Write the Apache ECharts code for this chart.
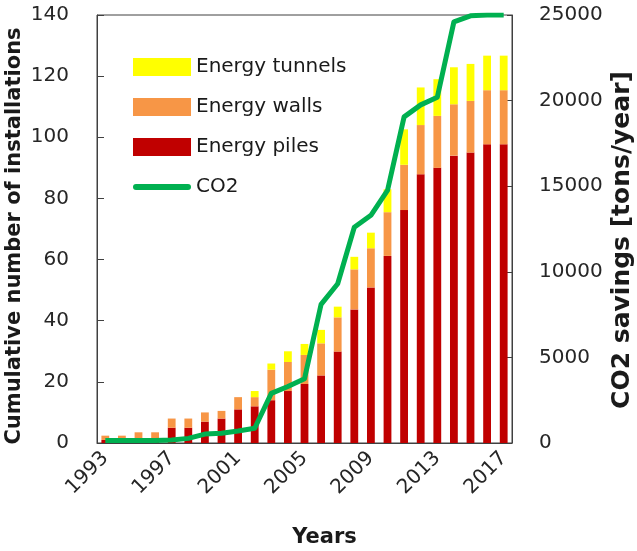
<!DOCTYPE html>
<html>
<head>
<meta charset="utf-8">
<script src="https://cdn.jsdelivr.net/npm/echarts@6/dist/echarts.min.js"></script>
<style>
html,body{margin:0;padding:0;background:#fff;}
#chart{width:637px;height:551px;}
</style>
</head>
<body>
<div id="chart"></div>
<script>
var years = ['1993','1994','1995','1996','1997','1998','1999','2000','2001','2002','2003','2004','2005','2006','2007','2008','2009','2010','2011','2012','2013','2014','2015','2016','2017'];
var energyPiles   = [1, 1, 1, 1, 5, 5, 7, 8, 11, 12, 14, 17, 19.3, 22.1, 29.9, 43.7, 50.9, 61.2, 76.2, 87.9, 90, 94, 95, 97.7, 97.7];
var energyWalls   = [1.4, 1.4, 2.5, 2.5, 3, 3, 3, 2.5, 4, 3, 10, 9.5, 9.5, 10.5, 11.2, 13.1, 12.8, 14.3, 14.8, 16.1, 17, 16.8, 16.9, 17.7, 17.7];
var energyTunnels = [0, 0, 0, 0, 0, 0, 0, 0, 0, 2, 2, 3.5, 3.6, 4.4, 3.5, 4.1, 5.1, 7.5, 11.6, 12.3, 12, 12.1, 12.1, 11.3, 11.3];
var co2Savings    = [150, 150, 150, 150, 170, 270, 520, 570, 700, 860, 2900, 3300, 3750, 8100, 9300, 12600, 13300, 14750, 19050, 19750, 20200, 24600, 24950, 25000, 25000];
var leftTicks = [0, 20, 40, 60, 80, 100, 120, 140];
var rightTicks = [0, 5000, 10000, 15000, 20000, 25000];

var FONT = 'DejaVu Sans';
var chart = echarts.init(document.getElementById('chart'), null, {renderer: 'canvas'});
var option = {
  animation: false,
  backgroundColor: '#ffffff',
  textStyle: {fontFamily: FONT},
  grid: {left: 97, right: 125, top: 15, bottom: 108, show: true, borderColor: '#404040', borderWidth: 1,
         containLabel: false, outerBoundsMode: 'none'},
  legend: {
    left: 128, top: 52, orient: 'vertical',
    itemWidth: 58, itemHeight: 18, itemGap: 20,
    textStyle: {fontFamily: FONT, fontSize: 20, color: '#1a1a1a'},
    data: [
      {name: 'Energy tunnels', icon: 'rect'},
      {name: 'Energy walls', icon: 'rect'},
      {name: 'Energy piles', icon: 'rect'},
      {name: 'CO2', icon: 'path://M3,0 H55 A3,3 0 0 1 55,6 H3 A3,3 0 0 1 3,0 Z', itemStyle: {color: '#00b050'}}
    ]
  },
  xAxis: {
    type: 'category', data: years,
    name: 'Years', nameLocation: 'middle', nameGap: 84,
    nameTextStyle: {fontFamily: FONT, fontSize: 21, fontWeight: 'bold', color: '#1a1a1a', padding: [0, 0, 0, 40]},
    axisLine: {show: true, lineStyle: {color: '#404040', width: 1}},
    axisTick: {show: false},
    axisLabel: {interval: 3, rotate: 45, fontFamily: FONT, fontSize: 20, color: '#262626', margin: 12}
  },
  yAxis: [
    {
      type: 'value', min: leftTicks[0], max: leftTicks[leftTicks.length - 1], interval: 20,
      name: 'Cumulative number of installations', nameLocation: 'middle', nameGap: 72, nameRotate: 90,
      nameMoveOverlap: false,
      nameTextStyle: {fontFamily: FONT, fontSize: 21, fontWeight: 'bold', color: '#1a1a1a', padding: [0, 14, 0, 0]},
      axisLine: {show: true, lineStyle: {color: '#404040', width: 1}},
      axisTick: {show: true, inside: true, length: 7, lineStyle: {color: '#404040'}},
      splitLine: {show: false},
      axisLabel: {fontFamily: FONT, fontSize: 20, color: '#262626', margin: 28}
    },
    {
      type: 'value', min: rightTicks[0], max: rightTicks[rightTicks.length - 1], interval: 5000,
      position: 'right',
      name: 'CO2 savings [tons/year]', nameLocation: 'middle', nameGap: 98, nameRotate: 90,
      nameMoveOverlap: false,
      nameTextStyle: {fontFamily: FONT, fontSize: 25, fontWeight: 'bold', color: '#1a1a1a', padding: [0, 22, 0, 0]},
      axisLine: {show: true, lineStyle: {color: '#404040', width: 1}},
      axisTick: {show: true, inside: true, length: 5, lineStyle: {color: '#404040'}},
      splitLine: {show: false},
      axisLabel: {fontFamily: FONT, fontSize: 20, color: '#262626', margin: 27,
                  formatter: function (v) { return String(v); }}
    }
  ],
  series: [
    {name: 'Energy piles', type: 'bar', stack: 'inst', data: energyPiles, barWidth: '47%', itemStyle: {color: '#c00000'}},
    {name: 'Energy walls', type: 'bar', stack: 'inst', data: energyWalls, barWidth: '47%', itemStyle: {color: '#f79646'}},
    {name: 'Energy tunnels', type: 'bar', stack: 'inst', data: energyTunnels, barWidth: '47%', itemStyle: {color: '#ffff00'}},
    {name: 'CO2', type: 'line', yAxisIndex: 1, data: co2Savings, symbol: 'none', z: 5,
     lineStyle: {color: '#00b050', width: 5, join: 'round'}, itemStyle: {color: '#00b050'}}
  ]
};
chart.setOption(option);
</script>
</body>
</html>
